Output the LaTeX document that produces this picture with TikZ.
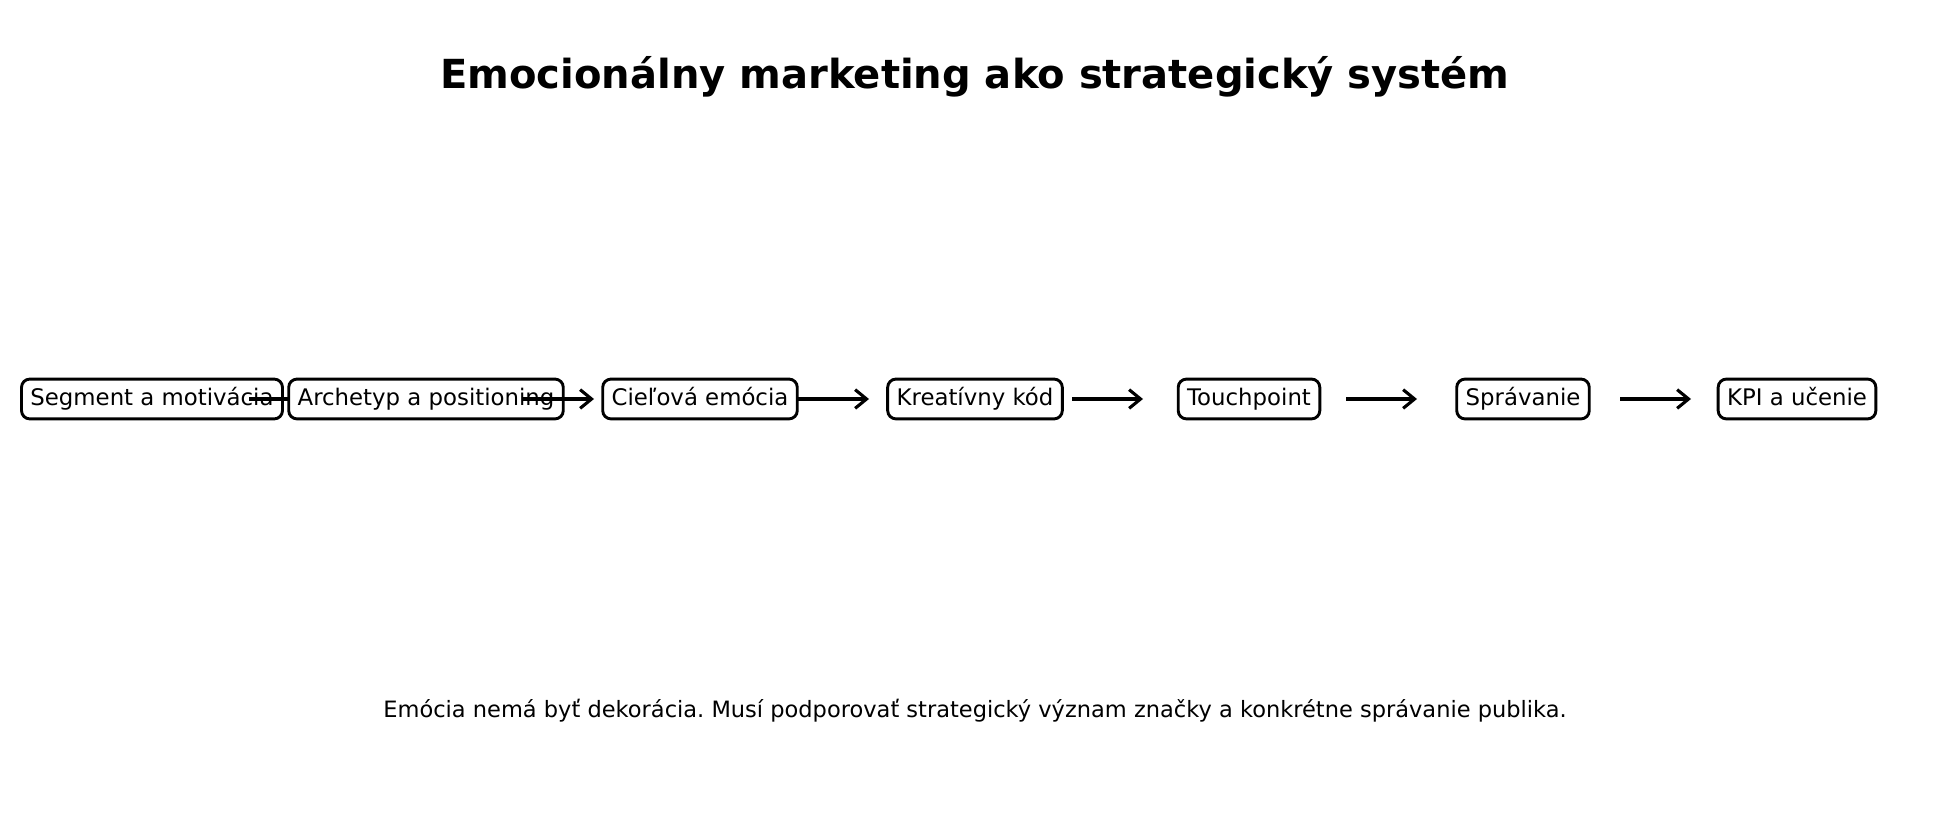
\documentclass[tikz,border=0pt]{standalone}
\usepackage{fontspec}
\setmainfont{DejaVu Sans}
\usetikzlibrary{calc,arrows.meta}
\frenchspacing
\begin{document}
\begin{tikzpicture}[x=0.016933cm,y=-0.016933cm,
		box/.style={draw,fill=white,line width=1.4pt,rounded corners=4pt,
			font=\fontsize{11}{13}\selectfont,inner xsep=4.3pt,inner ysep=0pt,
			minimum height=19.2pt,text height=8.4pt,text depth=2.6pt},
		arr/.style={-{Straight Barb[length=5.5pt,width=9pt]},line width=1.5pt}]
\useasboundingbox (0,0) rectangle (1946,827);
\node[font=\bfseries\fontsize{19.3}{23}\selectfont] (title) at (975,77) {Emocionálny marketing ako strategický systém};
\coordinate (p1) at (152,399);
\coordinate (p2) at (426,399);
\coordinate (p3) at (700,399);
\coordinate (p4) at (975,399);
\coordinate (p5) at (1249,399);
\coordinate (p6) at (1523,399);
\coordinate (p7) at (1797,399);
% each box is drawn before its outgoing arrow
\node[box] (seg) at (p1) {Segment a motivácia};
\draw[arr] ($(p1)+(97,0)$) -- ($(p2)-(106,0)$);
\node[box] (arch) at (p2) {Archetyp a positioning};
\draw[arr] ($(p2)+(97,0)$) -- ($(p3)-(106,0)$);
\node[box] (emo) at (p3) {Cieľová emócia};
\draw[arr] ($(p3)+(97,0)$) -- ($(p4)-(106,0)$);
\node[box] (kod) at (p4) {Kreatívny kód};
\draw[arr] ($(p4)+(97,0)$) -- ($(p5)-(106,0)$);
\node[box] (touch) at (p5) {Touchpoint};
\draw[arr] ($(p5)+(97,0)$) -- ($(p6)-(106,0)$);
\node[box] (sprav) at (p6) {Správanie};
\draw[arr] ($(p6)+(97,0)$) -- ($(p7)-(106,0)$);
\node[box] (kpi) at (p7) {KPI a učenie};
\node[font=\fontsize{10.85}{13}\selectfont] (note) at (975,711) {Emócia nemá byť dekorácia. Musí podporovať strategický význam značky a konkrétne správanie publika.};
\end{tikzpicture}
\end{document}
